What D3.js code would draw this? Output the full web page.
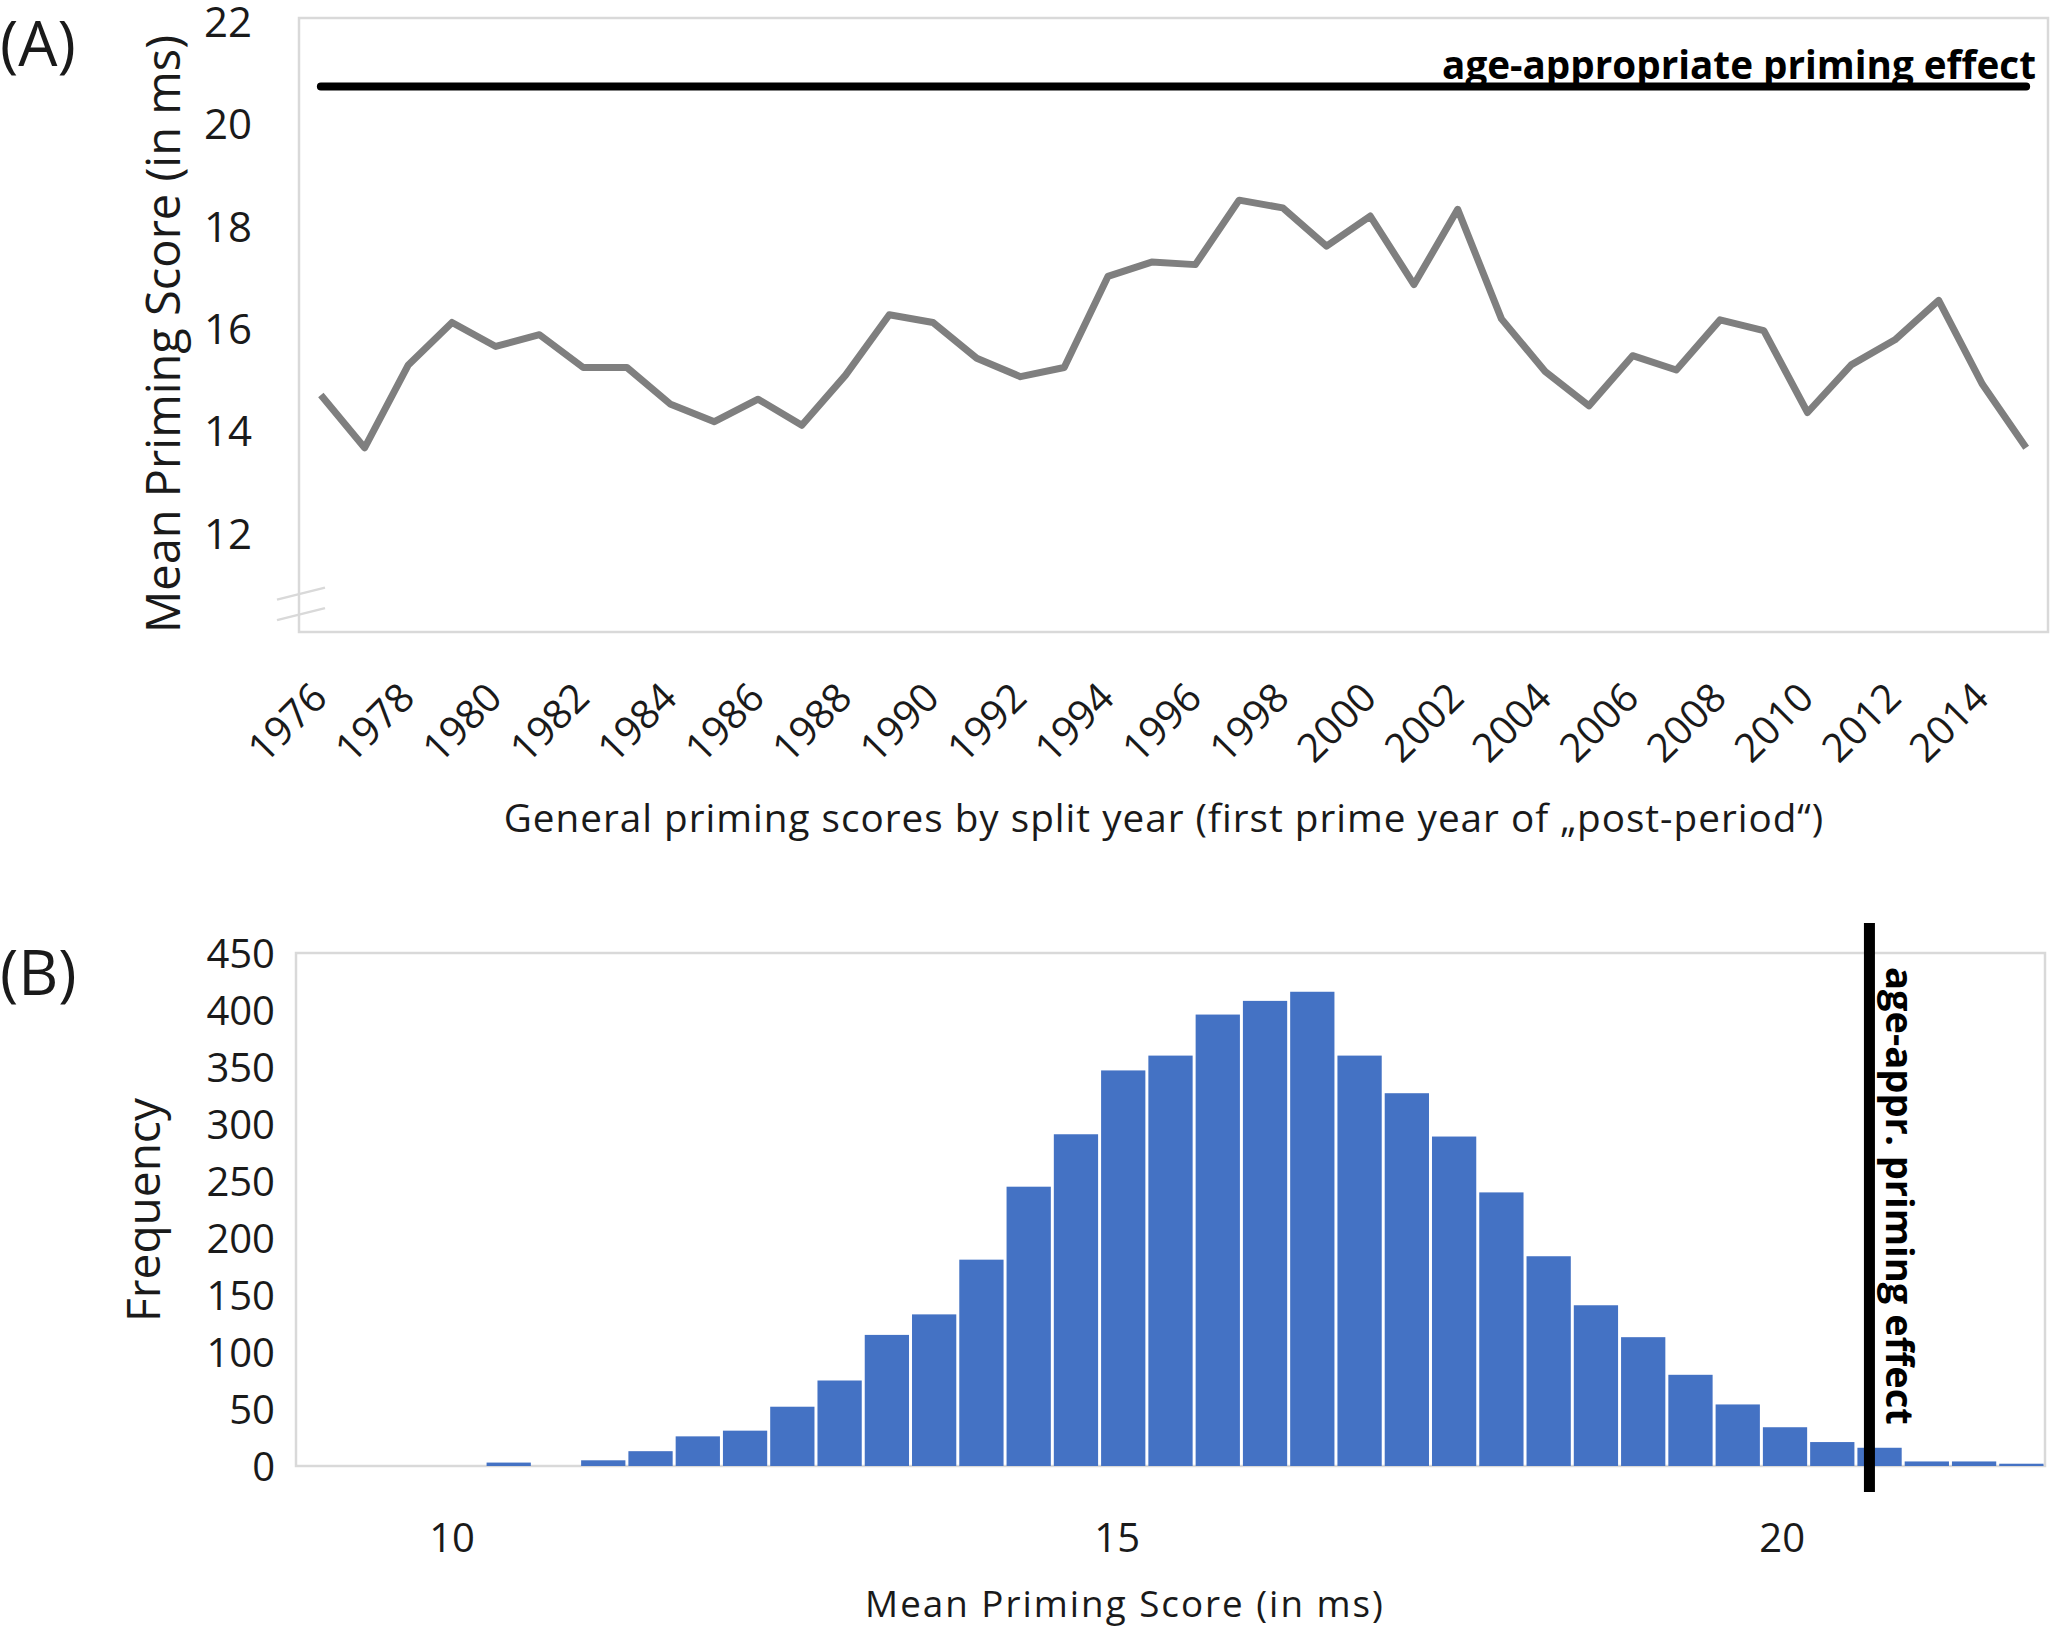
<!DOCTYPE html>
<html>
<head>
<meta charset="utf-8">
<script src="https://cdn.jsdelivr.net/npm/d3@7"></script>
<style>
  body { margin: 0; background: #fff; }
  text { font-family: "Open Sans", sans-serif; fill: #1a1a1a; }
  .bold { font-family: "Open Sans", sans-serif; font-weight: 700; fill: #000; }
</style>
</head>
<body>
<div id="chart"></div>
<script>
// panel A: mean priming score by split year
var splitYears = [1976, 1977, 1978, 1979, 1980, 1981, 1982, 1983, 1984, 1985,
                  1986, 1987, 1988, 1989, 1990, 1991, 1992, 1993, 1994, 1995,
                  1996, 1997, 1998, 1999, 2000, 2001, 2002, 2003, 2004, 2005,
                  2006, 2007, 2008, 2009, 2010, 2011, 2012, 2013, 2014, 2015];
var meanPriming = [14.63, 13.6, 15.22, 16.05, 15.58, 15.81, 15.17, 15.17, 14.45, 14.11,
                   14.55, 14.04, 15.02, 16.2, 16.05, 15.35, 14.99, 15.17, 16.95, 17.23,
                   17.18, 18.44, 18.29, 17.54, 18.13, 16.79, 18.26, 16.12, 15.09, 14.42,
                   15.4, 15.12, 16.1, 15.89, 14.29, 15.22, 15.71, 16.48, 14.84, 13.6];
var yTicksA = [12, 14, 16, 18, 20, 22];
var ageAppropriate = 20.66;

// panel B: histogram of permuted mean priming scores
var histRange = [8.83, 21.98];
var histCounts = [0, 0, 0, 0, 3, 0, 5, 13, 26, 31, 52, 75, 115, 133, 181, 245, 291, 347,
                  360, 396, 408, 416, 360, 327, 289, 240, 184, 141, 113, 80, 54, 34, 21,
                  16, 4, 4, 2];
var xTicksB = [10, 15, 20];
var yTicksB = [0, 50, 100, 150, 200, 250, 300, 350, 400, 450];

var W = 2056, H = 1634;
var svg = d3.select("#chart").append("svg")
  .attr("width", W).attr("height", H);

// scale a text's font so it spans the width the reference shows
function fitText(sel, target) {
  var fs = +sel.attr("font-size");
  var w = sel.node().getComputedTextLength();
  if (w > 0) sel.attr("font-size", (fs * target / w).toFixed(2));
  return sel;
}

// ---------- panel A ----------
var A = { left: 299, right: 2048, top: 18, bottom: 632 };

var xA = d3.scalePoint().domain(splitYears).range([A.left, A.right]).padding(0.5);
var yA = d3.scaleLinear().domain([10, 22]).range([A.bottom, A.top]);

svg.append("rect")
  .attr("x", A.left).attr("y", A.top)
  .attr("width", A.right - A.left).attr("height", A.bottom - A.top)
  .attr("fill", "none").attr("stroke", "#d9d9d9").attr("stroke-width", 2.5);

// axis break marks
[10.75, 10.35].forEach(function(v) {
  svg.append("line")
    .attr("x1", A.left - 22).attr("y1", yA(v) + 6)
    .attr("x2", A.left + 26).attr("y2", yA(v) - 6)
    .attr("stroke", "#d9d9d9").attr("stroke-width", 2.5);
});

var yAxisA = svg.append("g")
  .attr("transform", "translate(" + (A.left - 47) + ",5)")
  .call(d3.axisLeft(yA).tickValues(yTicksA).tickSize(0).tickPadding(0));
yAxisA.select(".domain").remove();
yAxisA.selectAll("text")
  .attr("font-size", 42).attr("font-family", "Open Sans").attr("fill", "#1a1a1a");

var xAxisA = svg.append("g")
  .attr("transform", "translate(0," + A.bottom + ")")
  .call(d3.axisBottom(xA)
    .tickValues(splitYears.filter(function(d, i) { return i % 2 == 0; }))
    .tickSize(0));
xAxisA.select(".domain").remove();
xAxisA.selectAll("text")
  .attr("font-size", 40).attr("font-family", "Open Sans").attr("fill", "#1a1a1a")
  .attr("text-anchor", "end")
  .attr("dy", null).attr("y", 0)
  .attr("transform", "translate(8,68) rotate(-45)");

// age-appropriate reference line
svg.append("path")
  .datum(splitYears)
  .attr("d", d3.line()
    .x(function(d) { return xA(d); })
    .y(function() { return yA(ageAppropriate); }))
  .attr("stroke", "#000").attr("stroke-width", 8)
  .attr("stroke-linecap", "round").attr("fill", "none");

fitText(svg.append("text")
  .attr("class", "bold")
  .attr("x", 2036).attr("y", yA(ageAppropriate) - 8)
  .attr("text-anchor", "end")
  .attr("font-size", 36)
  .text("age-appropriate priming effect"), 594);

svg.append("path")
  .datum(meanPriming)
  .attr("d", d3.line()
    .x(function(d, i) { return xA(splitYears[i]); })
    .y(function(d) { return yA(d); }))
  .attr("stroke", "#7f7f7f").attr("stroke-width", 7)
  .attr("stroke-linejoin", "round").attr("fill", "none");

svg.append("text")
  .attr("transform", "translate(180,334) rotate(-90)")
  .attr("text-anchor", "middle")
  .attr("font-size", 47)
  .text("Mean Priming Score (in ms)");

fitText(svg.append("text")
  .attr("x", 1164).attr("y", 832)
  .attr("text-anchor", "middle")
  .attr("font-size", 36)
  .attr("letter-spacing", 1)
  .text("General priming scores by split year (first prime year of \u201Epost-period\u201C)"), 1326);

svg.append("text")
  .attr("x", 0).attr("y", 66)
  .attr("font-size", 62)
  .text("(A)");

// ---------- panel B ----------
var B = { left: 296, right: 2045, top: 953, bottom: 1466 };

var xB = d3.scaleLinear().domain(histRange).range([B.left, B.right]);
var yB = d3.scaleLinear().domain([0, 450]).range([B.bottom, B.top]);
var binWidth = (histRange[1] - histRange[0]) / histCounts.length;

svg.append("rect")
  .attr("x", B.left).attr("y", B.top)
  .attr("width", B.right - B.left).attr("height", B.bottom - B.top)
  .attr("fill", "none").attr("stroke", "#d9d9d9").attr("stroke-width", 2.5);

svg.append("g")
  .selectAll("rect")
  .data(histCounts)
  .enter()
  .append("rect")
  .attr("x", function(d, i) { return xB(histRange[0] + i * binWidth) + 1.5; })
  .attr("width", function(d, i) {
    return xB(histRange[0] + (i + 1) * binWidth) - xB(histRange[0] + i * binWidth) - 3;
  })
  .attr("y", function(d) { return yB(d); })
  .attr("height", function(d) { return yB(0) - yB(d); })
  .attr("fill", "#4472c4");

var yAxisB = svg.append("g")
  .attr("transform", "translate(" + (B.left - 21) + ",2)")
  .call(d3.axisLeft(yB).tickValues(yTicksB).tickSize(0).tickPadding(0));
yAxisB.select(".domain").remove();
yAxisB.selectAll("text")
  .attr("font-size", 40).attr("font-family", "Open Sans").attr("fill", "#1a1a1a");

var xAxisB = svg.append("g")
  .attr("transform", "translate(0," + B.bottom + ")")
  .call(d3.axisBottom(xB).tickValues(xTicksB).tickSize(0).tickPadding(0));
xAxisB.select(".domain").remove();
xAxisB.selectAll("text")
  .attr("font-size", 40).attr("font-family", "Open Sans").attr("fill", "#1a1a1a")
  .attr("dy", null).attr("y", 86);

// age-appropriate reference line (vertical)
svg.append("line")
  .attr("x1", xB(ageAppropriate)).attr("x2", xB(ageAppropriate))
  .attr("y1", 923).attr("y2", 1492)
  .attr("stroke", "#000").attr("stroke-width", 11);

fitText(svg.append("text")
  .attr("class", "bold")
  .attr("transform", "translate(" + (xB(ageAppropriate) + 17) + ",967) rotate(90)")
  .attr("font-size", 36)
  .text("age-appr. priming effect"), 458);

svg.append("text")
  .attr("transform", "translate(160,1210) rotate(-90)")
  .attr("text-anchor", "middle")
  .attr("font-size", 46)
  .text("Frequency");

fitText(svg.append("text")
  .attr("x", 1125).attr("y", 1617)
  .attr("text-anchor", "middle")
  .attr("font-size", 36)
  .attr("letter-spacing", 2)
  .text("Mean Priming Score (in ms)"), 521);

svg.append("text")
  .attr("x", 0).attr("y", 995)
  .attr("font-size", 62)
  .text("(B)");
</script>
</body>
</html>
